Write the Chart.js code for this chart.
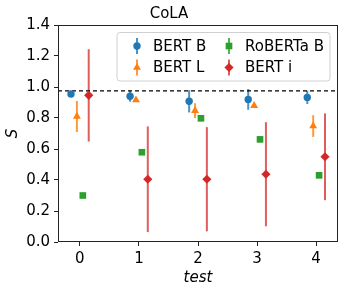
<!DOCTYPE html>
<html>
<head>
<meta charset="utf-8">
<script src="https://cdn.jsdelivr.net/npm/chart.js@4.4.1/dist/chart.umd.min.js"></script>
<style>
  html, body { margin: 0; padding: 0; background: #fff; }
  #wrap { width: 344px; height: 291px; }
</style>
</head>
<body>
<div id="wrap"><canvas id="chart" width="344" height="291"></canvas></div>
<script>
// data
const tests = [0, 1, 2, 3, 4];
const yTicks = [0, 0.2, 0.4, 0.6, 0.8, 1.0, 1.2, 1.4];
const seriesNames = ['BERT B', 'BERT L', 'RoBERTa B', 'BERT i'];
const xShift = [-0.15, -0.05, 0.05, 0.15];

const bertB = [0.955, 0.94, 0.908, 0.92, 0.933];
const bertBErr = [0.008, 0.035, 0.072, 0.067, 0.043];
const bertL = [0.81, 0.916, 0.847, 0.88, 0.748];
const bertLErr = [0.10, 0.01, 0.048, 0.015, 0.07];
const robertaB = [0.30, 0.579, 0.798, 0.662, 0.43];
const robertaBErr = [0.004, 0.004, 0.004, 0.004, 0.004];
const bertI = [0.946, 0.405, 0.405, 0.437, 0.55];
const bertIErr = [0.298, 0.341, 0.336, 0.336, 0.28];
const refLine = 0.975;

const FONT = 'DejaVu Sans';
const colors = ['#1f77b4', '#ff7f0e', '#2ca02c', '#d62728'];
const errColors = ['rgba(31,119,180,0.8)', 'rgba(255,127,14,0.8)', 'rgba(44,160,44,0.8)', 'rgba(214,39,40,0.75)'];
const styles = ['circle', 'triangle', 'rect', 'rectRot'];
const radii = [3.7, 4.6, 4.7, 4.6];

const values = [bertB, bertL, robertaB, bertI];
const errors = [bertBErr, bertLErr, robertaBErr, bertIErr];

const datasets = values.map((vals, i) => ({
    label: seriesNames[i],
    data: tests.map((t, j) => ({ x: t + xShift[i], y: vals[j] })),
    backgroundColor: colors[i],
    borderColor: colors[i],
    borderWidth: 0,
    pointStyle: styles[i],
    pointRadius: radii[i],
    errs: errors[i],
    errColor: errColors[i]
}));

datasets.push({
    type: 'line',
    label: 'ref',
    data: [{ x: -0.37, y: refLine }, { x: 4.37, y: refLine }],
    borderColor: '#000',
    borderWidth: 1.2,
    borderDash: [4, 3],
    pointRadius: 0,
    fill: false
});

// vertical error bars through the scales
const errorBars = {
    id: 'errorBars',
    beforeDatasetsDraw(chart) {
        const ctx = chart.ctx;
        const xs = chart.scales.x, ys = chart.scales.y;
        ctx.save();
        chart.data.datasets.forEach(ds => {
            if (!ds.errs) return;
            ctx.strokeStyle = ds.errColor;
            ctx.lineWidth = 2;
            ds.data.forEach((p, j) => {
                const px = xs.getPixelForValue(p.x);
                ctx.beginPath();
                ctx.moveTo(px, ys.getPixelForValue(p.y - ds.errs[j]));
                ctx.lineTo(px, ys.getPixelForValue(p.y + ds.errs[j]));
                ctx.stroke();
            });
        });
        ctx.restore();
    }
};

// full box round the plot, plus the 2x2 legend
const frameAndLegend = {
    id: 'frameAndLegend',
    afterDraw(chart) {
        const ctx = chart.ctx;
        const a = chart.chartArea;
        ctx.save();
        ctx.strokeStyle = '#222';
        ctx.lineWidth = 1;
        ctx.strokeRect(Math.round(a.left) + 0.5, Math.round(a.top) + 0.5,
            Math.round(a.right - a.left) - 1, Math.round(a.bottom - a.top) - 1);

        // legend box
        const bx = 117, by = 32.5, bw = 213, bh = 48.5, r = 3;
        ctx.beginPath();
        ctx.moveTo(bx + r, by);
        ctx.arcTo(bx + bw, by, bx + bw, by + bh, r);
        ctx.arcTo(bx + bw, by + bh, bx, by + bh, r);
        ctx.arcTo(bx, by + bh, bx, by, r);
        ctx.arcTo(bx, by, bx + bw, by, r);
        ctx.closePath();
        ctx.fillStyle = 'rgba(255,255,255,0.8)';
        ctx.fill();
        ctx.strokeStyle = '#d0d0d0';
        ctx.stroke();

        const cols = [137, 229];
        const rows = [46, 67.5];
        ctx.font = '15px "' + FONT + '"';
        ctx.textBaseline = 'middle';
        chart.data.datasets.forEach((ds, i) => {
            if (!ds.errs) return;
            const mx = cols[Math.floor(i / 2)], my = rows[i % 2];
            ctx.strokeStyle = ds.errColor;
            ctx.lineWidth = 2;
            ctx.beginPath();
            ctx.moveTo(mx, my - 8);
            ctx.lineTo(mx, my + 8);
            ctx.stroke();
            ctx.fillStyle = ds.backgroundColor;
            Chart.helpers.drawPoint(ctx, { pointStyle: ds.pointStyle, radius: ds.pointRadius, rotation: 0, borderWidth: 0 }, mx, my);
            ctx.fillStyle = '#000';
            ctx.fillText(ds.label, mx + 16, my + 1);
        });
        ctx.restore();
    }
};

const tickFont = { family: FONT, size: 15 };

new Chart(document.getElementById('chart'), {
    type: 'scatter',
    data: { datasets: datasets },
    options: {
        responsive: false,
        animation: false,
        layout: { padding: { top: 0, right: 6, left: 0, bottom: 0 } },
        plugins: {
            legend: { display: false },
            tooltip: { enabled: false },
            title: {
                display: true,
                text: 'CoLA',
                color: '#000',
                font: { family: FONT, size: 15, weight: 'normal' },
                padding: { top: 5, bottom: 2 }
            }
        },
        scales: {
            x: {
                type: 'linear',
                min: -0.37,
                max: 4.37,
                afterBuildTicks: s => { s.ticks = tests.map(v => ({ value: v })); },
                afterFit: s => { s.height = 49; },
                ticks: { color: '#000', font: tickFont, padding: 4, callback: v => String(v) },
                grid: { drawOnChartArea: false, drawTicks: true, tickLength: 4, tickColor: '#222' },
                border: { display: false },
                title: {
                    display: true,
                    text: 'test',
                    color: '#000',
                    font: { family: FONT, size: 15, style: 'italic' },
                    padding: { top: 0, bottom: 4 }
                }
            },
            y: {
                min: 0,
                max: 1.4,
                afterBuildTicks: s => { s.ticks = yTicks.map(v => ({ value: v })); },
                afterFit: s => { s.width = 58; },
                ticks: { color: '#000', font: tickFont, padding: 4, callback: v => v.toFixed(1) },
                grid: { drawOnChartArea: false, drawTicks: true, tickLength: 4, tickColor: '#222' },
                border: { display: false },
                title: {
                    display: true,
                    text: 'S',
                    color: '#000',
                    font: { family: FONT, size: 15, style: 'italic' },
                    padding: { top: 4, bottom: 0 }
                }
            }
        }
    },
    plugins: [errorBars, frameAndLegend]
});
</script>
</body>
</html>
